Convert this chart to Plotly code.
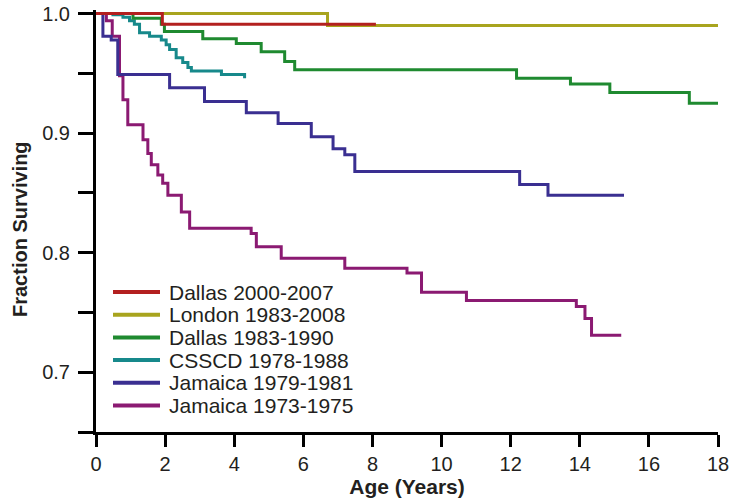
import plotly.graph_objects as go

# ---- data ----
series_names = ["Dallas 2000-2007", "London 1983-2008", "Dallas 1983-1990",
                "CSSCD 1978-1988", "Jamaica 1979-1981", "Jamaica 1973-1975"]
series_colors = ["#b3201f", "#a8a41e", "#1f8a30", "#17898b", "#3a2f91", "#8b1a72"]

dallas2000_x = [0, 1.92, 8.1]
dallas2000_y = [1.0, 0.991, 0.991]

london_x = [0, 6.7, 18]
london_y = [1.0, 0.990, 0.990]

dallas1983_x = [0, 1.07, 1.89, 1.98, 3.09, 4.06, 4.78, 5.46, 5.75, 12.17, 13.73, 14.87, 17.17, 18]
dallas1983_y = [1.0, 0.996, 0.991, 0.985, 0.979, 0.975, 0.968, 0.960, 0.953, 0.946, 0.941, 0.934, 0.925, 0.925]

csscd_x = [0, 0.49, 0.78, 0.97, 1.11, 1.26, 1.55, 1.89, 2.03, 2.13, 2.32, 2.51, 2.66, 2.76, 3.63, 4.3]
csscd_y = [1.0, 0.999, 0.997, 0.994, 0.991, 0.984, 0.981, 0.978, 0.974, 0.970, 0.963, 0.959, 0.955, 0.952, 0.949, 0.946]

jam1979_x = [0, 0.2, 0.44, 0.63, 2.13, 3.14, 4.35, 5.27, 6.23, 6.86, 7.2, 7.49, 12.26, 13.08, 15.28]
jam1979_y = [1.0, 0.981, 0.978, 0.949, 0.938, 0.9265, 0.917, 0.908, 0.897, 0.887, 0.882, 0.868, 0.857, 0.848, 0.848]

jam1973_x = [0, 0.3, 0.47, 0.68, 0.78, 0.92, 1.36, 1.5, 1.6, 1.79, 1.93, 2.08, 2.47, 2.71,
             4.49, 4.64, 5.36, 7.2, 9.0, 9.42, 10.72, 13.9, 14.15, 14.34, 15.2]
jam1973_y = [1.0, 0.994, 0.981, 0.948, 0.928, 0.907, 0.8945, 0.883, 0.8735, 0.865, 0.858, 0.848, 0.834, 0.8205,
             0.816, 0.805, 0.7954, 0.787, 0.783, 0.767, 0.760, 0.755, 0.745, 0.731, 0.731]

x_ticks = [0, 2, 4, 6, 8, 10, 12, 14, 16, 18]
y_ticks = [0.65, 0.7, 0.75, 0.8, 0.85, 0.9, 0.95, 1.0]
y_ticktext = ["", "0.7", "", "0.8", "", "0.9", "", "1.0"]

series_x = [dallas2000_x, london_x, dallas1983_x, csscd_x, jam1979_x, jam1973_x]
series_y = [dallas2000_y, london_y, dallas1983_y, csscd_y, jam1979_y, jam1973_y]

fig = go.Figure()
# draw bottom-most series first so Dallas 2000-2007 is on top
for i in reversed(range(len(series_names))):
    fig.add_trace(go.Scatter(
        x=series_x[i], y=series_y[i], mode="lines", name=series_names[i],
        line=dict(color=series_colors[i], width=3, shape="hv"),
        showlegend=False,
    ))

font_family = "Liberation Sans, Arial, sans-serif"
text_color = "#231f20"

# figure fills the whole window (page body margin is removed below)
W, H = 729, 503
ML, MR, MT, MB = 96, 11, 10, 71
PW, PH = W - ML - MR, H - MT - MB

def px_to_paper(px, py):
    return (px - ML) / PW, (H - MB - py) / PH

legend_top_py = 292.0
legend_row_step = 22.7
swatch_x0, swatch_x1, text_x = 113, 160, 167

shapes = []
annotations = []
for i, (name, color) in enumerate(zip(series_names, series_colors)):
    py = legend_top_py + i * legend_row_step
    x0, y0 = px_to_paper(swatch_x0, py)
    x1, _ = px_to_paper(swatch_x1, py)
    tx, _ = px_to_paper(text_x, py)
    shapes.append(dict(type="line", xref="paper", yref="paper",
                       x0=x0, x1=x1, y0=y0, y1=y0,
                       line=dict(color=color, width=4)))
    annotations.append(dict(text=name, xref="paper", yref="paper",
                            x=tx, y=y0, xanchor="left", yanchor="middle",
                            showarrow=False, font=dict(size=21, color=text_color)))

# y-axis title
ytx, yty = px_to_paper(20, 229)
annotations.append(dict(text="<b>Fraction Surviving</b>", xref="paper", yref="paper",
                        x=ytx, y=yty, xanchor="center", yanchor="middle", textangle=-90,
                        showarrow=False, font=dict(size=20, color=text_color)))

fig.update_layout(
    width=W, height=H,
    margin=dict(l=ML, r=MR, t=MT, b=MB),
    paper_bgcolor="white", plot_bgcolor="white",
    font=dict(family=font_family, size=20, color=text_color),
    showlegend=False,
    shapes=shapes,
    annotations=annotations,
    xaxis=dict(
        range=[0, 18], tickvals=x_ticks, ticktext=[str(v) for v in x_ticks],
        showline=True, linecolor="black", linewidth=3,
        ticks="outside", ticklen=12, tickwidth=3, tickcolor="black",
        showgrid=False, zeroline=False, automargin=False,
        ticklabeloverflow="allow",
        tickfont=dict(size=20),
        title=dict(text="<b>Age (Years)</b>", font=dict(size=21), standoff=5),
    ),
    yaxis=dict(
        range=[0.65, 1.003], tickvals=y_ticks, ticktext=y_ticktext,
        showline=True, linecolor="black", linewidth=3,
        ticks="outside", ticklen=15, tickwidth=3, tickcolor="black",
        showgrid=False, zeroline=False, automargin=False,
        ticklabeloverflow="allow", ticklabelstandoff=4,
        tickfont=dict(size=20),
    ),
)

fig.write_html("out.html", config={"displayModeBar": False},
               post_script="document.body.style.margin='0';")
